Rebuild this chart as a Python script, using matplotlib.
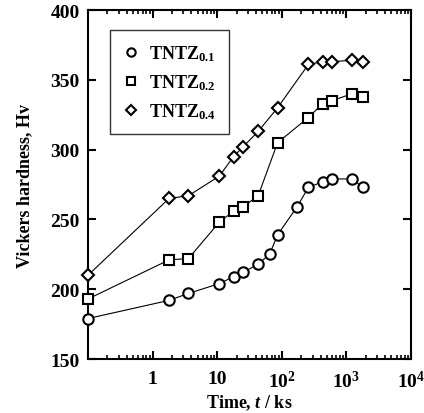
import matplotlib
matplotlib.use('Agg')
import matplotlib.pyplot as plt
from matplotlib.ticker import LogLocator, NullFormatter, FixedLocator

plt.rcParams['font.family'] = ['Liberation Serif', 'DejaVu Serif']
plt.rcParams['font.weight'] = 'bold'
plt.rcParams['mathtext.fontset'] = 'custom'
plt.rcParams['mathtext.rm'] = 'Liberation Serif:bold'
plt.rcParams['mathtext.bf'] = 'Liberation Serif:bold'
plt.rcParams['mathtext.it'] = 'Liberation Serif:italic:bold'

# aging time (ks) and hardness (Hv)
t_01 = [0.1, 1.8, 3.6, 10.8, 18, 25.2, 43.2, 64.8, 86.4, 172.8, 259.2, 432, 604.8, 1209.6, 1814]
hv_01 = [179, 192, 197, 204, 209, 212, 218, 225, 239, 259, 273, 277, 279, 279, 273]

t_02 = [0.1, 1.8, 3.6, 10.8, 18, 25.2, 43.2, 86.4, 259.2, 432, 604.8, 1209.6, 1814]
hv_02 = [193, 221, 222, 248, 256, 259, 267, 305, 323, 333, 335, 340, 338]

t_04 = [0.1, 1.8, 3.6, 10.8, 18, 25.2, 43.2, 86.4, 259.2, 432, 604.8, 1209.6, 1814]
hv_04 = [210, 265, 267, 281, 295, 302, 313, 330, 361, 363, 363, 364, 363]

labels = [r'TNTZ$_{\mathbf{0.1}}$', r'TNTZ$_{\mathbf{0.2}}$', r'TNTZ$_{\mathbf{0.4}}$']

fig = plt.figure(figsize=(4.24, 4.14), dpi=100)
ax = fig.add_axes([0.2075, 0.1304, 0.7615, 0.843])

style = dict(color='black', lw=0.8, mfc='white', mec='black', mew=1.5, clip_on=False, zorder=3)
ax.plot(t_01, hv_01, marker='o', ms=7.5, label=labels[0], **style)
ax.plot(t_02, hv_02, marker='s', ms=7, label=labels[1], **style)
ax.plot(t_04, hv_04, marker='D', ms=6.5, label=labels[2], **style)

ax.set_xscale('log')
ax.set_xlim(0.1, 1e4)
ax.set_ylim(150, 400)
ax.xaxis.set_major_locator(FixedLocator([1, 10, 100, 1000, 10000]))
ax.set_xticklabels(['1', '10', r'10$^{\mathbf{2}}$', r'10$^{\mathbf{3}}$', r'10$^{\mathbf{4}}$'])
ax.xaxis.set_minor_locator(LogLocator(base=10, subs=range(2, 10), numticks=20))
ax.xaxis.set_minor_formatter(NullFormatter())
ax.set_yticks([150, 200, 250, 300, 350, 400])

for s in ax.spines.values():
    s.set_linewidth(1.5)
ax.tick_params(which='major', direction='in', length=6, width=1.5, top=True, right=True,
               labelsize=14, pad=6)
ax.tick_params(axis='x', which='major', pad=8)
ax.tick_params(which='minor', direction='in', length=3, width=1.2, top=True, right=True)
for lab in ax.get_xticklabels() + ax.get_yticklabels():
    lab.set_fontweight('bold')

ax.set_xlabel(r'Time, $\mathit{t}$ / ks', fontsize=13, fontweight='bold', labelpad=1)
ax.set_ylabel('Vickers hardness, Hv', fontsize=13, fontweight='bold', labelpad=12)

leg = ax.legend(loc='upper left', bbox_to_anchor=(0.068, 0.943), fontsize=13, frameon=True,
                fancybox=False, edgecolor='black', handlelength=0.8, handletextpad=0.6,
                labelspacing=0.5, borderpad=0.75, borderaxespad=0, markerscale=0.8)
leg.get_frame().set_linewidth(1.0)
for h in leg.get_lines():
    h.set_linestyle('none')

fig.savefig('out.png', dpi=100)
